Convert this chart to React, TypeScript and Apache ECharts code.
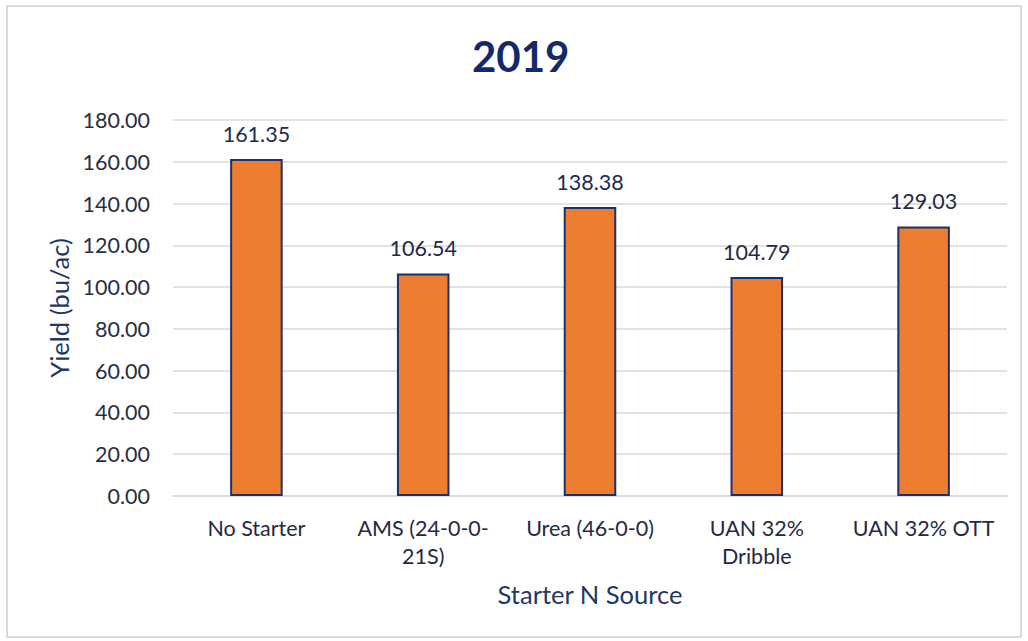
import React, { useEffect, useRef } from "react";
import * as echarts from "echarts";

const titleText = "2019";
const categories = ["No Starter", "AMS (24-0-0-21S)", "Urea (46-0-0)", "UAN 32% Dribble", "UAN 32% OTT"];
const categoryLabels = ["No Starter", "AMS (24-0-0-\n21S)", "Urea (46-0-0)", "UAN 32%\nDribble", "UAN 32% OTT"];
const yieldValues = [161.35, 106.54, 138.38, 104.79, 129.03];
const yAxisName = "Yield (bu/ac)";
const xAxisName = "Starter N Source";

const FONT = "Lato, 'Open Sans', sans-serif";

export default function App() {
  const ref = useRef<HTMLDivElement>(null);
  useEffect(() => {
    if (!ref.current) return;
    const chart = echarts.init(ref.current, null, { renderer: "svg" });
    chart.setOption({
      animation: false,
      backgroundColor: "#ffffff",
      textStyle: { fontFamily: FONT },
      title: {
        text: titleText,
        left: 467,
        top: 30,
        textStyle: { fontSize: 42, fontWeight: "bold", color: "#13296b", fontFamily: FONT },
      },
      graphic: [
        {
          type: "rect",
          shape: { x: 7, y: 6, width: 1014, height: 631 },
          style: { fill: "none", stroke: "#d0d0d0", lineWidth: 1.5 },
          silent: true,
        },
      ],
      grid: { left: 173, right: 21, top: 120, bottom: 145, containLabel: false },
      xAxis: {
        type: "category",
        data: categories,
        name: xAxisName,
        nameLocation: "middle",
        nameGap: 85,
        nameTextStyle: { fontSize: 25.5, color: "#1f3864", fontFamily: FONT },
        axisLine: { show: true, lineStyle: { color: "#d9d9d9", width: 1.5 } },
        axisTick: { show: false },
        axisLabel: {
          interval: 0,
          margin: 18,
          fontSize: 21.5,
          lineHeight: 28,
          color: "#1f2a44",
          fontFamily: FONT,
          formatter: (_v: string, i: number) => categoryLabels[i],
        },
      },
      yAxis: {
        type: "value",
        min: 0,
        max: 180,
        interval: 20,
        name: yAxisName,
        nameLocation: "middle",
        nameGap: 101,
        nameTextStyle: { fontSize: 25.5, color: "#1f3864", fontFamily: FONT },
        axisLine: { show: false },
        axisTick: { show: false },
        axisLabel: {
          margin: 23,
          fontSize: 21.5,
          color: "#2b2d42",
          fontFamily: FONT,
          formatter: (v: number) => v.toFixed(2),
        },
        splitLine: { show: true, lineStyle: { color: "#d9d9d9", width: 1.5 } },
      },
      series: [
        {
          type: "bar",
          data: yieldValues,
          barWidth: "31.5%",
          itemStyle: { color: "#ED7D31", borderColor: "#1f3068", borderWidth: 2 },
          label: {
            show: true,
            position: "top",
            distance: 14,
            fontSize: 21.5,
            color: "#222a4a",
            fontFamily: FONT,
            formatter: (p: any) => Number(p.value).toFixed(2),
          },
        },
      ],
    });
    return () => chart.dispose();
  }, []);
  return (
    <div
      ref={ref}
      style={{ position: "fixed", left: 0, top: 0, width: 1028, height: 641 }}
    />
  );
}
